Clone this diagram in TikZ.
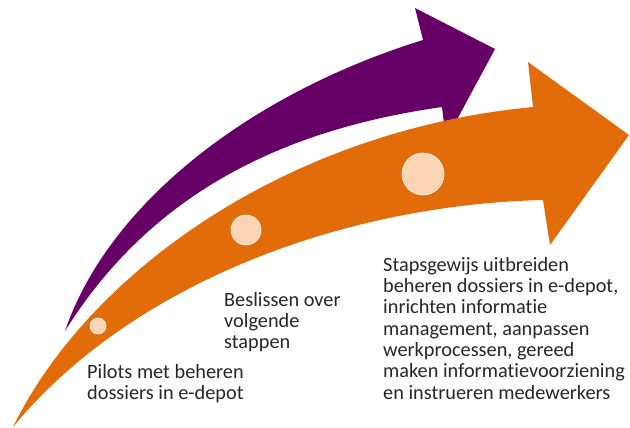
\documentclass[tikz,border=0pt]{standalone}
\usepackage{fontspec}
\setmainfont{Carlito}[Ligatures=NoCommon]
\usepackage{xcolor}
\usetikzlibrary{positioning}

\definecolor{plum}{RGB}{102,0,102}
\definecolor{tangerine}{RGB}{227,108,10}
\definecolor{peach}{RGB}{251,212,180}
\definecolor{inktext}{RGB}{38,38,38}

\tikzset{
    dot/.style={circle, fill=peach, draw=white, line width=0.6pt, inner sep=0pt},
    caption/.style={anchor=north west, align=left, inner sep=0pt, text=inktext,
        font=\fontsize{20.3}{21.3}\selectfont}
}

\begin{document}
\begin{tikzpicture}[x=1pt, y=-1pt]
    \useasboundingbox (0,0) rectangle (630,428);

    % purple arrow (behind)
    \coordinate (ptail) at (65,331);
    \coordinate (pup) at (423,40);
    \coordinate (pbarbtop) at (415,8);
    \coordinate (ptip) at (495,49);
    \coordinate (pbarbbot) at (446,140);
    \coordinate (plow) at (442,107);
    \fill[plum] (ptail) .. controls (110,200) and (255,92) .. (pup) -- (pbarbtop) -- (ptip)
        -- (pbarbbot) -- (plow) .. controls (280,130) and (150,195) .. cycle;

    % orange arrow (front)
    \coordinate (otail) at (13,427);
    \coordinate (oup) at (533,107);
    \coordinate (obarbtop) at (528,62);
    \coordinate (otip) at (629,135);
    \coordinate (obarbbot) at (550,245);
    \coordinate (olow) at (543,200);
    \fill[tangerine] (otail) .. controls (90,270) and (290,130) .. (oup) -- (obarbtop) -- (otip)
        -- (obarbbot) -- (olow) .. controls (340,205) and (130,285) .. cycle;

    % steps on the orange arrow
    \node[dot, minimum size=16pt] (s1) at (98,326) {};
    \node[dot, minimum size=30pt] (s2) at (246,230) {};
    \node[dot, minimum size=42pt] (s3) at (423,174) {};

    \node[caption] (pilots) at (87,364) {Pilots met beheren\\dossiers in e-depot};
    \node[caption] (beslissen) at (224,292) {Beslissen over\\volgende\\stappen};
    \node[caption] (uitbreiden) at (383,257) {Stapsgewijs uitbreiden\\beheren dossiers in e-depot,\\inrichten informatie\\management, aanpassen\\werkprocessen, gereed\\maken informatievoorziening\\en instrueren medewerkers};
\end{tikzpicture}
\end{document}
